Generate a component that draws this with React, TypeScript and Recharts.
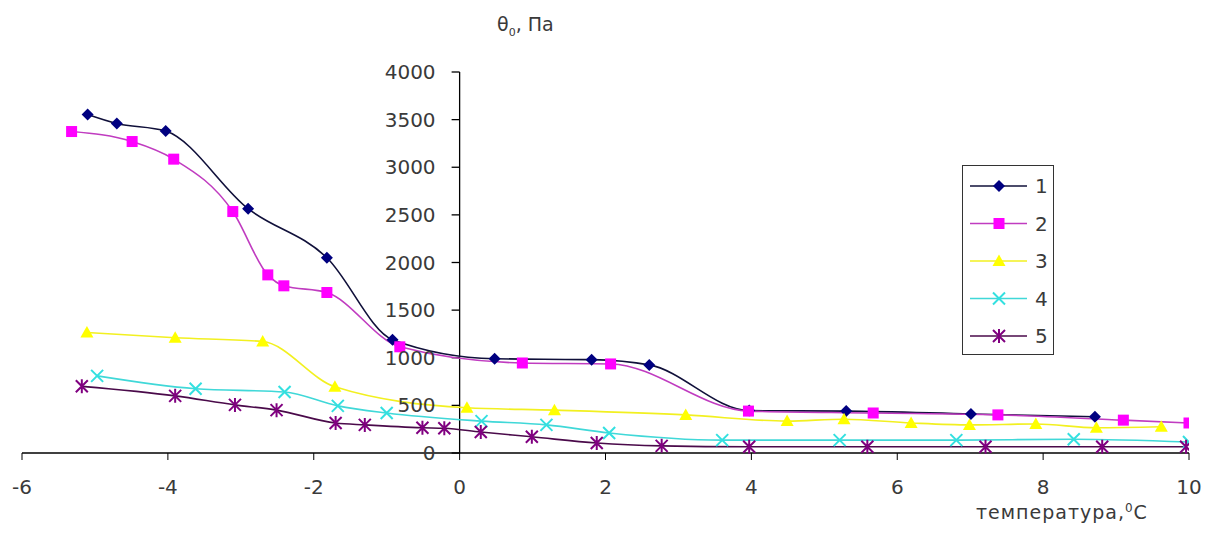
import { LineChart, Line, XAxis, YAxis, ReferenceLine, Legend } from "recharts";

const xTicks = [-6, -4, -2, 0, 2, 4, 6, 8, 10];
const yTicks = [0, 500, 1000, 1500, 2000, 2500, 3000, 3500, 4000];

// series 1
const temp1 = [-5.1, -4.7, -4.03, -2.9, -1.82, -0.92, 0.48, 1.81, 2.6, 3.97, 5.3, 7.01, 8.71];
const stress1 = [3555, 3460, 3380, 2565, 2050, 1190, 990, 980, 925, 445, 440, 410, 380];

// series 2
const temp2 = [-5.32, -4.49, -3.92, -3.11, -2.63, -2.41, -1.82, -0.82, 0.86, 2.07, 3.96, 5.67, 7.38, 9.1, 10.0];
const stress2 = [3375, 3270, 3085, 2535, 1870, 1755, 1685, 1115, 945, 935, 440, 420, 400, 345, 315];

// series 3
const temp3 = [-5.11, -3.9, -2.7, -1.71, 0.1, 1.3, 3.1, 4.49, 5.27, 6.19, 6.99, 7.9, 8.73, 9.62];
const stress3 = [1265, 1210, 1170, 695, 475, 450, 400, 335, 355, 315, 295, 305, 265, 275];

// series 4
const temp4 = [-4.97, -3.62, -2.4, -1.67, -1.0, 0.3, 1.19, 2.05, 3.6, 5.21, 6.81, 8.42, 10.0];
const stress4 = [810, 675, 640, 495, 420, 335, 295, 210, 135, 135, 135, 145, 115];

// series 5
const temp5 = [-5.18, -3.9, -3.08, -2.51, -1.7, -1.3, -0.51, -0.21, 0.29, 0.99, 1.88, 2.77, 3.97, 5.59, 7.21, 8.81, 9.96];
const stress5 = [700, 600, 505, 450, 315, 295, 265, 260, 220, 170, 105, 75, 65, 65, 65, 65, 65];

const zip = (xs: number[], ys: number[]) => xs.map((x, i) => ({ x, y: ys[i] }));

const FONT = "DejaVu Sans";
const TEXT = "#3a3a3a";

type Marker = "diamond" | "square" | "triangle" | "cross" | "star";

const drawMarker = (kind: Marker, cx: number, cy: number, color: string, key?: string) => {
  switch (kind) {
    case "diamond":
      return <path key={key} d={`M${cx},${cy - 6}L${cx + 6},${cy}L${cx},${cy + 6}L${cx - 6},${cy}Z`} fill={color} />;
    case "square":
      return <rect key={key} x={cx - 5.5} y={cy - 5.5} width={11} height={11} fill={color} />;
    case "triangle":
      return <path key={key} d={`M${cx},${cy - 6.5}L${cx + 6.5},${cy + 5}L${cx - 6.5},${cy + 5}Z`} fill={color} />;
    case "cross":
      return (
        <path key={key} d={`M${cx - 6},${cy - 6}L${cx + 6},${cy + 6}M${cx - 6},${cy + 6}L${cx + 6},${cy - 6}`} stroke={color} strokeWidth={2} fill="none" />
      );
    default:
      return (
        <path
          key={key}
          d={`M${cx - 6},${cy - 6}L${cx + 6},${cy + 6}M${cx - 6},${cy + 6}L${cx + 6},${cy - 6}M${cx},${cy - 7}L${cx},${cy + 7}`}
          stroke={color}
          strokeWidth={2}
          fill="none"
        />
      );
  }
};

const series = [
  { name: "1", data: zip(temp1, stress1), line: "#10103a", marker: "#000080", kind: "diamond" as Marker },
  { name: "2", data: zip(temp2, stress2), line: "#c03cc0", marker: "#ff00ff", kind: "square" as Marker },
  { name: "3", data: zip(temp3, stress3), line: "#f2f020", marker: "#ffff00", kind: "triangle" as Marker },
  { name: "4", data: zip(temp4, stress4), line: "#40d8d8", marker: "#33e0e0", kind: "cross" as Marker },
  { name: "5", data: zip(temp5, stress5), line: "#4a0a4a", marker: "#800080", kind: "star" as Marker },
];

const LegendBox = () => (
  <div style={{ border: "1.5px solid #333", background: "#fff", width: 92, height: 190, boxSizing: "border-box" }}>
    <svg width={89} height={187}>
      {series.map((s, i) => {
        const y = 20 + i * 37.5;
        return (
          <g key={s.name}>
            <line x1={7} x2={64} y1={y} y2={y} stroke={s.line} strokeWidth={1.6} />
            {drawMarker(s.kind, 36, y, s.marker)}
            <text x={72} y={y + 7} fill={TEXT} fontSize={20} fontFamily={FONT}>
              {s.name}
            </text>
          </g>
        );
      })}
    </svg>
  </div>
);

export default function App() {
  return (
    <div style={{ position: "absolute", left: 0, top: 0, width: 1206, height: 535, background: "#fff" }}>
      <LineChart width={1206} height={535} margin={{ top: 72, right: 17, left: 22, bottom: 0 }}>
        <XAxis
          type="number"
          dataKey="x"
          domain={[-6, 10]}
          ticks={xTicks}
          interval={0}
          allowDataOverflow
          height={82}
          axisLine={{ stroke: "#000", strokeWidth: 1.3 }}
          tickLine={{ stroke: "#000" }}
          tickSize={7}
          tickMargin={20}
          tick={{ fill: TEXT, fontSize: 20, fontFamily: FONT }}
        />
        <YAxis hide type="number" dataKey="y" domain={[0, 4000]} ticks={yTicks} />
        <ReferenceLine x={0} stroke="#000" strokeWidth={1.3} />
        {yTicks.map((v) => (
          <ReferenceLine
            key={v}
            segment={[
              { x: -0.11, y: v },
              { x: 0, y: v },
            ]}
            stroke="#000"
            strokeWidth={1.3}
            label={{ value: String(v), position: "left", offset: 16, fill: TEXT, fontSize: 20, fontFamily: FONT }}
          />
        ))}
        {series.map((s) => (
          <Line
            key={s.name}
            name={s.name}
            data={s.data}
            dataKey="y"
            type="monotone"
            stroke={s.line}
            strokeWidth={1.6}
            isAnimationActive={false}
            dot={(p: any) => drawMarker(s.kind, p.cx, p.cy, s.marker, `${s.name}-${p.index}`)}
            activeDot={false}
          />
        ))}
        <Legend
          layout="vertical"
          align="center"
          verticalAlign="middle"
          content={() => <LegendBox />}
          wrapperStyle={{ left: 962, top: 165, width: 92, height: 190 }}
        />
      </LineChart>
      <div style={{ position: "absolute", left: 497, top: 13, fontFamily: FONT, fontSize: 19, color: TEXT, whiteSpace: "nowrap" }}>
        θ<sub style={{ fontSize: 11 }}>0</sub>, Па
      </div>
      <div
        style={{
          position: "absolute",
          left: 976,
          top: 502,
          fontFamily: FONT,
          fontSize: 19,
          lineHeight: "20px",
          color: TEXT,
          whiteSpace: "nowrap",
          letterSpacing: 1,
        }}
      >
        температура,<sup style={{ fontSize: 12, lineHeight: 0 }}>0</sup>C
      </div>
    </div>
  );
}
